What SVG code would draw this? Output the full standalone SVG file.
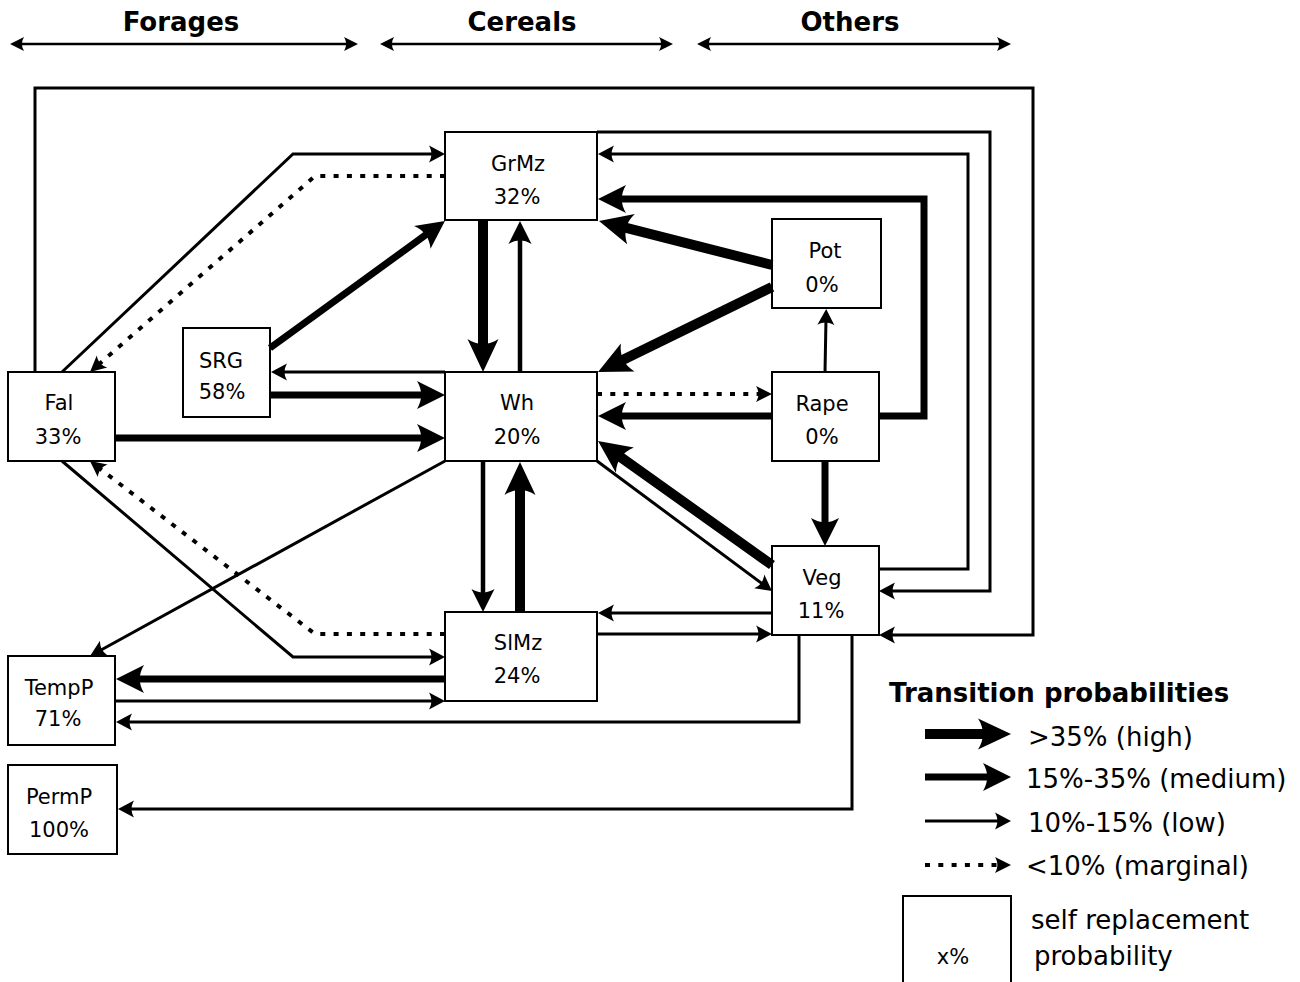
<svg xmlns="http://www.w3.org/2000/svg" width="1300" height="982" viewBox="0 0 1300 982">
<style>
text{font-family:"DejaVu Sans","Liberation Sans",sans-serif;fill:#000}
.node rect{fill:#fff;stroke:#000;stroke-width:2}
.lbl{font-size:21px;text-anchor:middle}
.hdr{font-size:26px;font-weight:bold;text-anchor:middle}
.leg{font-size:26px}
.c{fill:none;stroke:#000;stroke-linejoin:miter}
.low{stroke-width:3;marker-end:url(#mLow)}
.lowB{stroke-width:4.5;marker-end:url(#mLowB)}
.med{stroke-width:7;marker-end:url(#mMed)}
.high{stroke-width:10;marker-end:url(#mHigh)}
.dot{stroke-width:4;stroke-dasharray:5 8.3;marker-end:url(#mDot)}
.hd{stroke-width:2.5;marker-start:url(#mHdr);marker-end:url(#mHdr)}
</style>
<defs>
<marker id="mLow" markerUnits="userSpaceOnUse" markerWidth="16" markerHeight="17" refX="6" refY="8.5" orient="auto" overflow="visible"><path d="M16,8.5 L0,0 C3.2,5.67 3.2,11.33 0,17 Z" fill="#000"/></marker>
<marker id="mLowB" markerUnits="userSpaceOnUse" markerWidth="23" markerHeight="23" refX="9" refY="11.5" orient="auto" overflow="visible"><path d="M23,11.5 L0,0 C4.6,7.67 4.6,15.33 0,23 Z" fill="#000"/></marker>
<marker id="mMed" markerUnits="userSpaceOnUse" markerWidth="28" markerHeight="28" refX="11" refY="14" orient="auto" overflow="visible"><path d="M28,14 L0,0 C5.6,9.33 5.6,18.67 0,28 Z" fill="#000"/></marker>
<marker id="mHigh" markerUnits="userSpaceOnUse" markerWidth="33" markerHeight="31" refX="13" refY="15.5" orient="auto" overflow="visible"><path d="M33,15.5 L0,0 C6.6,10.33 6.6,20.67 0,31 Z" fill="#000"/></marker>
<marker id="mDot" markerUnits="userSpaceOnUse" markerWidth="16" markerHeight="16" refX="6" refY="8" orient="auto" overflow="visible"><path d="M16,8 L0,0 C3.2,5.33 3.2,10.67 0,16 Z" fill="#000"/></marker>
<marker id="mHdr" markerUnits="userSpaceOnUse" markerWidth="14" markerHeight="14" refX="5" refY="7" orient="auto-start-reverse" overflow="visible"><path d="M14,7 L0,0 C2.8,4.67 2.8,9.33 0,14 Z" fill="#000"/></marker>
</defs>

<g id="header">
<text class="hdr" x="181" y="31">Forages</text>
<text class="hdr" x="522" y="31">Cereals</text>
<text class="hdr" x="850" y="31">Others</text>
<path class="c hd" d="M19,44 L349,44"/>
<path class="c hd" d="M389,44 L664,44"/>
<path class="c hd" d="M706,44 L1002,44"/>
</g>

<g id="nodes">
<g id="GrMz" class="node"><rect x="445" y="132" width="152" height="88"/><text class="lbl" x="518" y="171">GrMz</text><text class="lbl" x="517" y="204">32%</text></g>
<g id="Wh" class="node"><rect x="445" y="372" width="152" height="89"/><text class="lbl" x="517" y="410">Wh</text><text class="lbl" x="517" y="444">20%</text></g>
<g id="SlMz" class="node"><rect x="445" y="612" width="152" height="89"/><text class="lbl" x="518" y="650">SlMz</text><text class="lbl" x="517" y="683">24%</text></g>
<g id="Fal" class="node"><rect x="8" y="372" width="107" height="89"/><text class="lbl" x="59" y="410">Fal</text><text class="lbl" x="58" y="444">33%</text></g>
<g id="SRG" class="node"><rect x="183" y="328" width="87" height="89"/><text class="lbl" x="221" y="368">SRG</text><text class="lbl" x="222" y="399">58%</text></g>
<g id="Pot" class="node"><rect x="772" y="219" width="109" height="89"/><text class="lbl" x="825" y="258">Pot</text><text class="lbl" x="822" y="292">0%</text></g>
<g id="Rape" class="node"><rect x="772" y="372" width="107" height="89"/><text class="lbl" x="822" y="411">Rape</text><text class="lbl" x="822" y="444">0%</text></g>
<g id="Veg" class="node"><rect x="772" y="546" width="107" height="89"/><text class="lbl" x="822" y="585">Veg</text><text class="lbl" x="821" y="618">11%</text></g>
<g id="TempP" class="node"><rect x="8" y="656" width="107" height="89"/><text class="lbl" x="59" y="695">TempP</text><text class="lbl" x="58" y="726">71%</text></g>
<g id="PermP" class="node"><rect x="8" y="765" width="109" height="89"/><text class="lbl" x="59" y="804">PermP</text><text class="lbl" x="59" y="837">100%</text></g>
</g>

<g id="connectors">
<path class="c low" d="M62,372 L293,154 L435,154"/>
<path class="c dot" d="M445,176 L315,176 L97.5,365.4"/>
<path class="c low" d="M62,461 L293,657 L435,657"/>
<path class="c dot" d="M445,634 L315,634 L97.9,467.1"/>
<path class="c med" d="M115,438 L428,438"/>
<path class="c med" d="M270,395 L428,395"/>
<path class="c low" d="M445,372 L281,372"/>
<path class="c med" d="M270,348 L431.2,230.9"/>
<path class="c high" d="M483,220 L483,352"/>
<path class="c lowB" d="M520,372 L520,235"/>
<path class="c lowB" d="M483,461 L483,598"/>
<path class="c high" d="M520,612 L520,482"/>
<path class="c high" d="M772,265 L618.4,225.9"/>
<path class="c high" d="M772,287 L616,363.2"/>
<path class="c dot" d="M597,394 L762,394"/>
<path class="c med" d="M772,416 L615,416"/>
<path class="c med" d="M879,416 L924,416 L924,199 L615,199"/>
<path class="c low" d="M825,372 L826,319"/>
<path class="c med" d="M825,461 L825,529"/>
<path class="c high" d="M772,565 L614.3,452.6"/>
<path class="c low" d="M597,461 L764,585"/>
<path class="c low" d="M772,613 L608,613"/>
<path class="c low" d="M597,634 L762,634"/>
<path class="c low" d="M879,569 L968,569 L968,154 L608,154"/>
<path class="c low" d="M597,132 L990,132 L990,591 L889,591"/>
<path class="c low" d="M35,372 L35,88 L1033,88 L1033,635 L889,635"/>
<path class="c low" d="M445,461 L98.8,651.2"/>
<path class="c med" d="M445,679 L133,679"/>
<path class="c low" d="M115,701 L435,701"/>
<path class="c low" d="M799,635 L799,722 L126,722"/>
<path class="c low" d="M852,635 L852,809 L128,809"/>
</g>

<g id="legend">
<text class="leg" x="889" y="702" font-weight="bold">Transition probabilities</text>
<path class="c high" d="M925,734 L991,734"/>
<path class="c med" d="M925,777 L994,777"/>
<path class="c low" d="M925,821 L1001,821"/>
<path class="c dot" d="M925,865 L1001,865"/>
<text class="leg" x="1028" y="746">&gt;35% (high)</text>
<text class="leg" x="1026" y="788">15%-35% (medium)</text>
<text class="leg" x="1028" y="832">10%-15% (low)</text>
<text class="leg" x="1026" y="875">&lt;10% (marginal)</text>
<rect x="903" y="896" width="108" height="100" fill="#fff" stroke="#000" stroke-width="2"/>
<text class="lbl" x="953" y="964">x%</text>
<text class="leg" x="1031" y="929">self replacement</text>
<text class="leg" x="1034" y="965">probability</text>
</g>
</svg>
